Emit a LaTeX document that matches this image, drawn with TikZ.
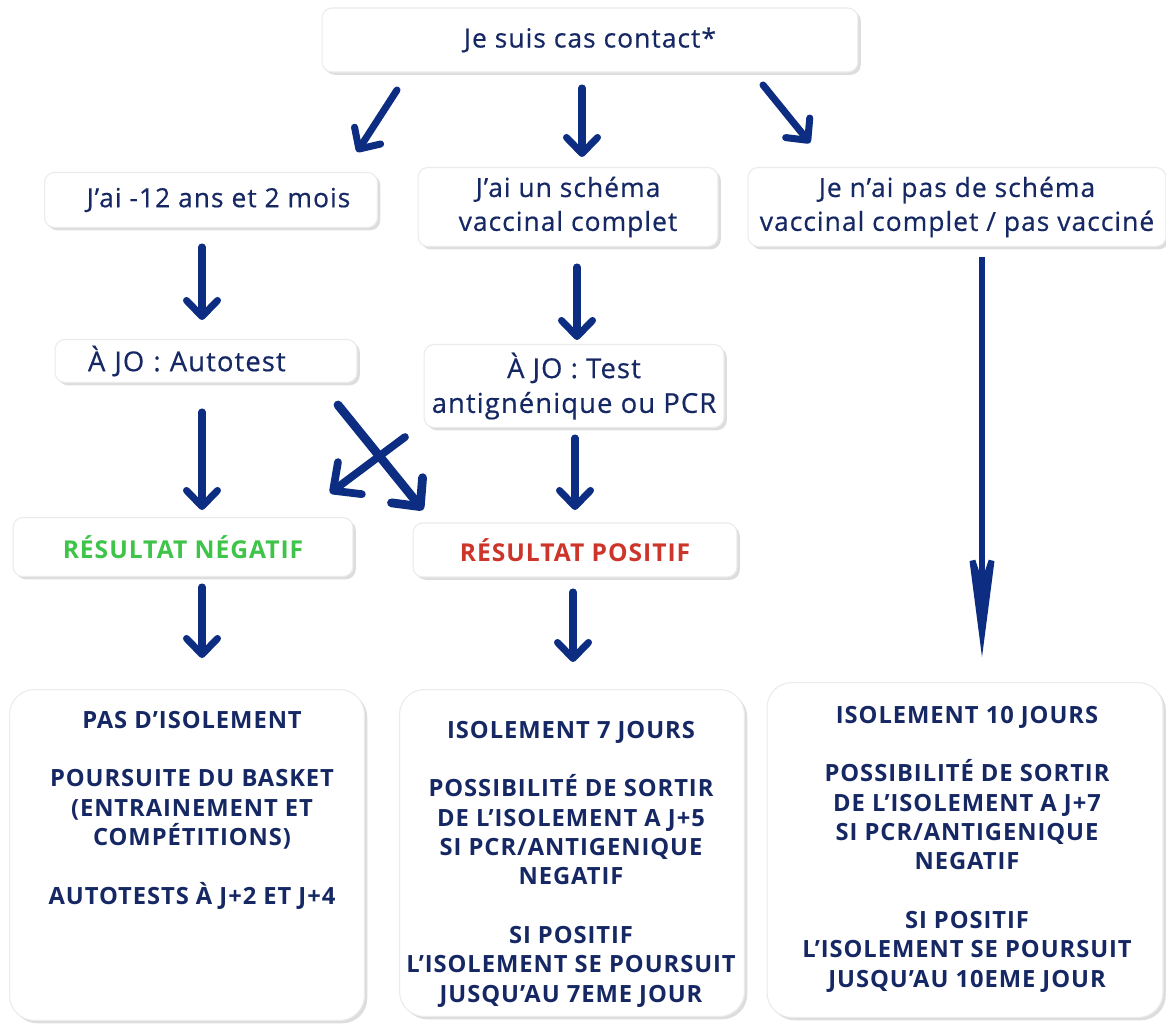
\documentclass[tikz,border=0pt]{standalone}
\usepackage{fontspec}
\setmainfont{Open Sans}[LetterSpace=4.0]
\newfontfamily\regfont{Open Sans}[LetterSpace=4.0, FakeBold=0.5]
\usetikzlibrary{arrows.meta,shadows}
\definecolor{navy}{RGB}{12,45,130}
\definecolor{txt}{RGB}{22,40,100}
\definecolor{grn}{RGB}{62,196,72}
\definecolor{rd}{RGB}{205,52,42}
\frenchspacing
\tikzset{
  box/.style={draw=black!8, line width=0.6pt, fill=white, rounded corners=0.2cm,
    drop shadow={shadow xshift=1.6pt, shadow yshift=-1.6pt, opacity=0.22, fill=black!60},
    text=txt, align=center, inner sep=0pt,
    font=\regfont\fontsize{15}{19.3}\selectfont},
  bigger/.style={font=\regfont\fontsize{15.6}{19.8}\selectfont},
  bigbox/.style={box, rounded corners=0.5cm},
  bigtxt/.style={text=txt, align=center, inner sep=0pt,
    font=\fontsize{13.5}{16.7}\selectfont\bfseries},
  res/.style={font=\fontsize{14}{16.7}\selectfont\bfseries},
  arr/.style={draw=navy, line width=4pt, line cap=round, line join=round,
    -{Straight Barb[length=0.32cm, width=0.62cm, round]}},
  crossarr/.style={arr, -{Straight Barb[length=0.42cm, width=0.8cm, round]}},
  bigarr/.style={draw=navy, line width=3.4pt,
    -{Stealth[length=2.54cm, width=0.66cm, inset=1.0cm]}}
}
\begin{document}
\begin{tikzpicture}[x=0.02cm, y=-0.02cm]
\useasboundingbox (0,0) rectangle (1166,1027);
\fill[white] (0,0) rectangle (1166,1027);

% boxes
\node[box, minimum width=10.72cm, minimum height=1.28cm] (top) at (590,40) {Je suis cas contact*};
\node[box, minimum width=6.66cm, minimum height=1.1cm] (age) at (211,200) {\hspace*{0.3cm}J’ai -12 ans et 2 mois};
\node[box, minimum width=6cm, minimum height=1.58cm] (vac) at (568,207) {J’ai un schéma\\vaccinal complet};
\node[box, minimum width=8.36cm, minimum height=1.58cm] (nvac) at (957,207) {Je n’ai pas de schéma\\vaccinal complet / pas vacciné};
\node[box, bigger, minimum width=6.04cm, minimum height=0.86cm, text width=4.72cm, align=left] (auto) at (206,361) {À JO : Autotest};
\node[box, bigger, minimum width=6cm, minimum height=1.66cm] (test) at (574,386) {À JO : Test\\antignénique ou PCR};
\node[box, res, text=grn, minimum width=6.8cm, minimum height=1.18cm] (neg) at (183,547) {RÉSULTAT NÉGATIF};
\node[box, res, text=rd, minimum width=6.48cm, minimum height=1.08cm] (pos) at (575,550) {RÉSULTAT POSITIF};
\node[bigbox, minimum width=7.1cm, minimum height=6.62cm] (bH) at (187,855) {};
\node[bigbox, minimum width=6.9cm, minimum height=6.54cm] (bI) at (572,853) {};
\node[bigbox, minimum width=7.92cm, minimum height=6.7cm] (bJ) at (965,850) {};

\node[bigtxt] (tH) at (192,810) {PAS D’ISOLEMENT\\[16.7pt]POURSUITE DU BASKET\\(ENTRAINEMENT ET\\COMPÉTITIONS)\\[16.7pt]AUTOTESTS À J+2 ET J+4};
\node[bigtxt] (tI) at (571,864) {ISOLEMENT 7 JOURS\\[16.7pt]POSSIBILITÉ DE SORTIR\\DE L’ISOLEMENT A J+5\\SI PCR/ANTIGENIQUE\\NEGATIF\\[16.7pt]SI POSITIF\\L’ISOLEMENT SE POURSUIT\\JUSQU’AU 7EME JOUR};
\node[bigtxt] (tJ) at (967,849) {ISOLEMENT 10 JOURS\\[16.7pt]POSSIBILITÉ DE SORTIR\\DE L’ISOLEMENT A J+7\\SI PCR/ANTIGENIQUE\\NEGATIF\\[16.7pt]SI POSITIF\\L’ISOLEMENT SE POURSUIT\\JUSQU’AU 10EME JOUR};

% arrow end points
\coordinate (a1s) at (397,90);  \coordinate (a1e) at (357,152);
\coordinate (a2s) at (582,88);  \coordinate (a2e) at (582,157);
\coordinate (a3s) at (763,85);  \coordinate (a3e) at (810,143);
\coordinate (a4s) at (202,247); \coordinate (a4e) at (202,320);
\coordinate (a5s) at (577,267); \coordinate (a5e) at (577,340);
\coordinate (a6s) at (202,412); \coordinate (a6e) at (202,510);
\coordinate (a7s) at (338,405); \coordinate (a7e) at (423,510);
\coordinate (a8s) at (405,437); \coordinate (a8e) at (330,493);
\coordinate (a9s) at (575,438); \coordinate (a9e) at (575,510);
\coordinate (a10s) at (202,587); \coordinate (a10e) at (202,658);
\coordinate (a11s) at (573,592); \coordinate (a11e) at (573,662);
\coordinate (a12s) at (982,257); \coordinate (a12e) at (982,657);

\draw[arr] (a1s) -- (a1e);
\draw[arr] (a2s) -- (a2e);
\draw[arr] (a3s) -- (a3e);
\draw[arr] (a4s) -- (a4e);
\draw[arr] (a5s) -- (a5e);
\draw[arr] (a6s) -- (a6e);
\draw[crossarr, line width=5pt] (a7s) -- (a7e);
\draw[crossarr, line width=4.4pt] (a8s) -- (a8e);
\draw[arr] (a9s) -- (a9e);
\draw[arr] (a10s) -- (a10e);
\draw[arr] (a11s) -- (a11e);
\draw[bigarr] (a12s) -- (a12e);
\end{tikzpicture}
\end{document}
